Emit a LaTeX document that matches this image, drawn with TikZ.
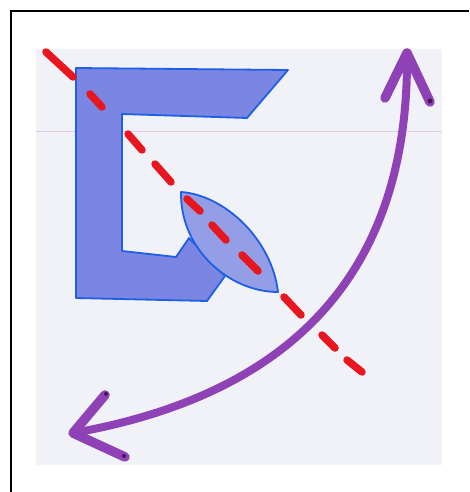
\documentclass[tikz,border=0pt]{standalone}
\usetikzlibrary{arrows.meta}

\definecolor{paper}{RGB}{240,242,247}
\definecolor{rule}{RGB}{232,200,232}
\definecolor{penblue}{RGB}{30,95,230}
\definecolor{inkblue}{RGB}{122,134,226}
\definecolor{leafblue}{RGB}{148,158,230}
\definecolor{markred}{RGB}{232,22,30}
\definecolor{markviolet}{RGB}{142,66,182}
\definecolor{inkdot}{RGB}{70,20,90}

\begin{document}
\begin{tikzpicture}[
    x=1pt, y=-1pt,
    outline/.style={draw=penblue, line width=1.8pt, line join=round},
    axis/.style={draw=markred, line width=7.5pt, line cap=round},
    turn/.style={draw=markviolet, line width=8pt, line cap=round},
    barb/.style={draw=markviolet, line width=9.5pt, line cap=round, line join=round}
  ]
    \useasboundingbox (0,0) rectangle (469,492);

    % frame and sheet
    \draw[line width=2.5pt] (11,492) -- (11,11) -- (469,11);
    \fill[paper] (36,49) rectangle (442,465);
    \draw[rule, line width=0.8pt] (36,131) -- (442,131);

    % bracket shape
    \path[outline, fill=inkblue] (76,68) -- (288,70) -- (247,118) -- (122,114)
      -- (122,251) -- (176,257) -- (189,238) -- (225,276) -- (207,301)
      -- (76,298) -- cycle;

    % leaf
    \path[outline, fill=leafblue] (181,192) .. controls (225,195) and (272,240) .. (278,292)
      .. controls (230,292) and (180,250) .. (181,192) -- cycle;

    % mirror axis
    \foreach \xa/\ya/\xb/\yb in {46/52/73/77, 90/94/102/107, 128/134/142/150,
        155/164/171/182, 187/199/200/211, 212/225/226/240, 242/255/258/271,
        284/297/301/315, 322/335/335/348, 347/360/362/372}
      \draw[axis] (\xa,\ya) -- (\xb,\yb);

    % rotation arrow
    \coordinate (low) at (73,433);
    \coordinate (high) at (407,53);
    \draw[turn] (low) .. controls (260,400) and (410,300) .. (high);
    \draw[barb] (105,395) -- (low) -- (125,457);
    \draw[barb] (385,98) -- (high) -- (430,102);
    \fill[inkdot] (430,101) circle (2.5pt);
    \fill[inkdot] (106,394) circle (2pt);
    \fill[inkdot] (124,456) circle (2pt);
  \end{tikzpicture}
\end{document}
